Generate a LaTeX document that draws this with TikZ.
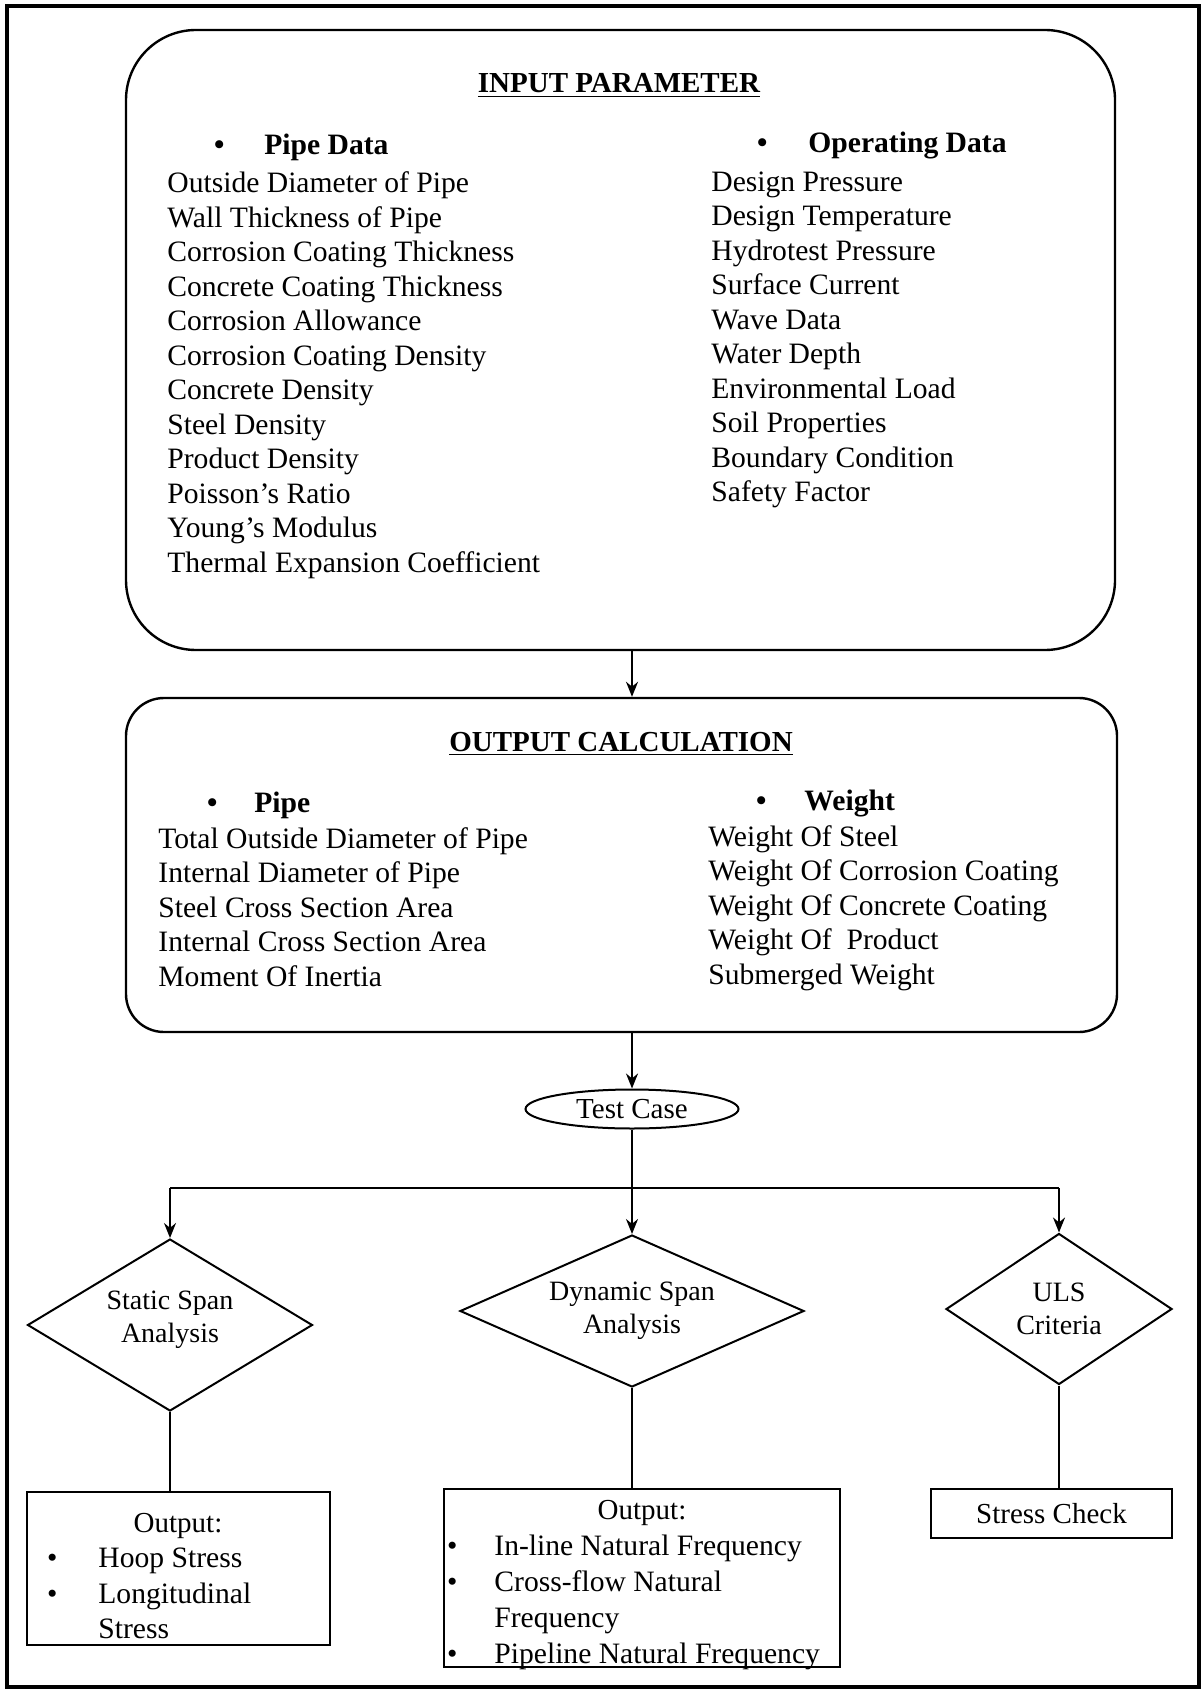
\documentclass[tikz,border=0pt]{standalone}
\usepackage{fontspec}
\setmainfont{Liberation Serif}
\usetikzlibrary{arrows.meta, positioning, shapes.geometric}
\newcommand{\bul}[1]{\llap{\textbullet\hspace{#1}}}

\begin{document}
\begin{tikzpicture}[
      x=0.5pt, y=-0.5pt,
      every node/.style={font=\fontsize{14.5}{17.4}\selectfont},
      frame/.style={draw, line width=1.8pt},
      bigbox/.style={draw, line width=1.2pt, inner sep=0pt},
      lst/.style={anchor=base west, align=left, inner sep=0pt,
                  font=\fontsize{14.8}{17.25}\selectfont},
      ttl/.style={anchor=base, inner sep=0pt, font=\fontsize{14.5}{17.4}\selectfont\bfseries},
      dia/.style={draw, diamond, line width=1pt, inner sep=0pt, align=center,
                  font=\fontsize{14}{16.7}\selectfont},
      outbox/.style={draw, rectangle, line width=1.1pt, inner sep=0pt},
      line/.style={line width=1pt},
      arr/.style={-{Stealth[length=7.5pt, width=6pt]}, line width=1pt}
    ]
      \useasboundingbox (0,0) rectangle (1202,1689);
      \draw[frame] (7,6) rectangle (1199,1687);

      % input parameters (lists sit on the baseline of their last line)
      \node[bigbox, rounded corners=35pt, minimum width=494.5pt, minimum height=310pt]
            (inbox) at (620.5,340) {};
      \node[ttl] (inttl) at (619,93) {\underline{INPUT PARAMETER}};
      \node[lst] (pipehd) at (264,155) {\textbf{\bul{20pt}Pipe Data}};
      \node[lst] (pipelst) at (167,572.5) {Outside Diameter of Pipe\\Wall Thickness of Pipe\\
            Corrosion Coating Thickness\\Concrete Coating Thickness\\Corrosion Allowance\\
            Corrosion Coating Density\\Concrete Density\\Steel Density\\Product Density\\
            Poisson’s Ratio\\Young’s Modulus\\Thermal Expansion Coefficient};
      \node[lst] (ophd) at (808,153) {\textbf{\bul{20.5pt}Operating Data}};
      \node[lst] (oplst) at (711,502) {Design Pressure\\Design Temperature\\Hydrotest Pressure\\
            Surface Current\\Wave Data\\Water Depth\\Environmental Load\\Soil Properties\\
            Boundary Condition\\Safety Factor};

      % output calculation
      \node[bigbox, rounded corners=19pt, minimum width=495.5pt, minimum height=167pt]
            (outcalc) at (621.5,865) {};
      \node[ttl] (outttl) at (621,751) {\underline{OUTPUT CALCULATION}};
      \node[lst] (pipeohd) at (254,812) {\textbf{\bul{18.5pt}Pipe}};
      \node[lst] (pipeolst) at (158,986) {Total Outside Diameter of Pipe\\Internal Diameter of Pipe\\
            Steel Cross Section Area\\Internal Cross Section Area\\Moment Of Inertia};
      \node[lst] (wthd) at (804,810) {\textbf{\bul{19pt}Weight}};
      \node[lst] (wtlst) at (708,984) {Weight Of Steel\\Weight Of Corrosion Coating\\
            Weight Of Concrete Coating\\Weight Of~ Product\\Submerged Weight};

      % test case and analyses
      \node[draw, ellipse, line width=1pt, inner sep=0pt, minimum width=106.5pt,
            minimum height=19.5pt] (test) at (632,1109) {Test Case};
      \node[dia, aspect=1.66, minimum width=142.5pt, minimum height=86pt] (static) at (170,1325)
            {Static Span\\Analysis\\[-8.7pt]};
      \node[dia, aspect=2.26, minimum width=172pt, minimum height=76pt] (dynamic) at (632,1311)
            {Dynamic Span\\Analysis};
      \node[dia, aspect=1.5, minimum width=113pt, minimum height=75.5pt] (uls) at (1059,1309)
            {ULS\\Criteria};

      \coordinate (brL) at (170,1188);
      \coordinate (brR) at (1059,1188);

      % results
      \node[outbox, minimum width=151.5pt, minimum height=76.5pt] (statout) at (178.5,1568.5) {};
      \node[ttl, font=\fontsize{14.5}{17.4}\selectfont] (statottl) at (178,1532) {Output:};
      \node[lst, font=\fontsize{14.8}{17.8}\selectfont] (statolst) at (98,1638.6)
            {\bul{20.5pt}Hoop Stress\\\bul{20.5pt}Longitudinal\\Stress};

      \node[outbox, minimum width=198pt, minimum height=89pt] (dynout) at (642,1578) {};
      \node[ttl, font=\fontsize{14.5}{17.4}\selectfont] (dynottl) at (642,1519) {Output:};
      \node[lst, font=\fontsize{14.8}{17.85}\selectfont] (dynolst) at (494,1663)
            {\bul{18.5pt}In-line Natural Frequency\\\bul{18.5pt}Cross-flow Natural\\
             Frequency\\\bul{18.5pt}Pipeline Natural Frequency};

      \node[outbox, minimum width=120.5pt, minimum height=24.5pt] (stress) at (1051.5,1513.5)
            {Stress Check};

      % connectors
      \draw[arr] (inbox.south -| test) -- (outcalc.north -| test);
      \draw[arr] (outcalc.south -| test) -- (test.north);
      \draw[arr] (test.south) -- (dynamic.north);
      \draw[line] (brL) -- (brR);
      \draw[arr] (brL) -- (static.north);
      \draw[arr] (brR) -- (uls.north);
      \draw[line] (static.south) -- (static.south |- statout.north);
      \draw[line] (dynamic.south) -- (dynamic.south |- dynout.north);
      \draw[line] (uls.south) -- (uls.south |- stress.north);
    \end{tikzpicture}
\end{document}
